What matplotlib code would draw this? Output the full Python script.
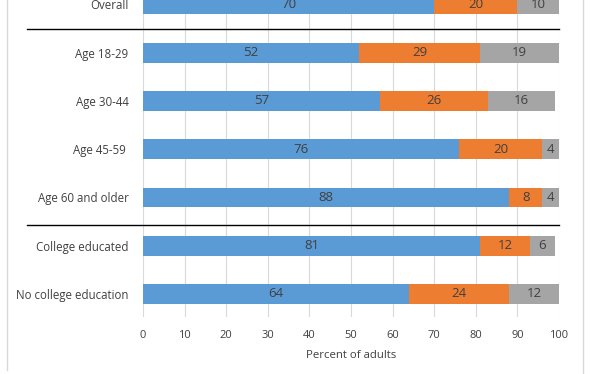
import numpy as np
import matplotlib
matplotlib.use('Agg')
import matplotlib.pyplot as plt
from matplotlib.lines import Line2D

plt.rcParams['font.family'] = ['Open Sans', 'DejaVu Sans']

groups = ['Overall', 'Age 18-29', 'Age 30-44', 'Age 45-59 ', 'Age 60 and older',
          'College educated', 'No college education']
blue_vals = [70, 52, 57, 76, 88, 81, 64]
orange_vals = [20, 29, 26, 20, 8, 12, 24]
grey_vals = [10, 19, 16, 4, 4, 6, 12]
separators = [0.5, 4.56]

colors = ['#5B9BD5', '#ED7D31', '#A5A5A5']
txt = '#404040'

fig = plt.figure(figsize=(5.97, 3.74), dpi=100)
W, H = 597, 374
ax = fig.add_axes([143 / W, 1 - 317 / H, (559 - 143) / W, 317 / H])

y = np.arange(len(groups))
left = np.zeros(len(groups))
for vals, c in zip([blue_vals, orange_vals, grey_vals], colors):
    vals = np.array(vals)
    ax.barh(y, vals, left=left, height=0.41, color=c, zorder=2)
    for yi, l, v in zip(y, left, vals):
        ax.text(l + v / 2, yi, str(v), ha='center', va='center', color=txt, fontsize=9.5, zorder=3)
    left = left + vals

ax.set_xlim(0, 100)
ax.set_ylim(6.477, -0.093)
ax.set_xticks(np.arange(0, 101, 10))
ax.set_yticks(y)
ax.set_yticklabels(groups)
ax.tick_params(axis='both', length=0, colors=txt)
ax.tick_params(axis='y', pad=10.5, labelsize=8.3)
ax.tick_params(axis='x', pad=9.5, labelsize=8)
ax.grid(axis='x', color='#D9D9D9', lw=0.8, zorder=0)
for s in ax.spines.values():
    s.set_visible(False)
ax.set_xlabel('Percent of adults', fontsize=8.2, color=txt, labelpad=6)

for sy in separators:
    ax.plot([-28, 100], [sy, sy], color='black', lw=1, clip_on=False, zorder=4)

fig.add_artist(Line2D([7 / W, 7 / W], [0.01, 1], color='#D9D9D9', lw=1))
fig.add_artist(Line2D([583 / W, 583 / W], [0, 1], color='#D9D9D9', lw=1))

fig.savefig('out.png', dpi=100)
